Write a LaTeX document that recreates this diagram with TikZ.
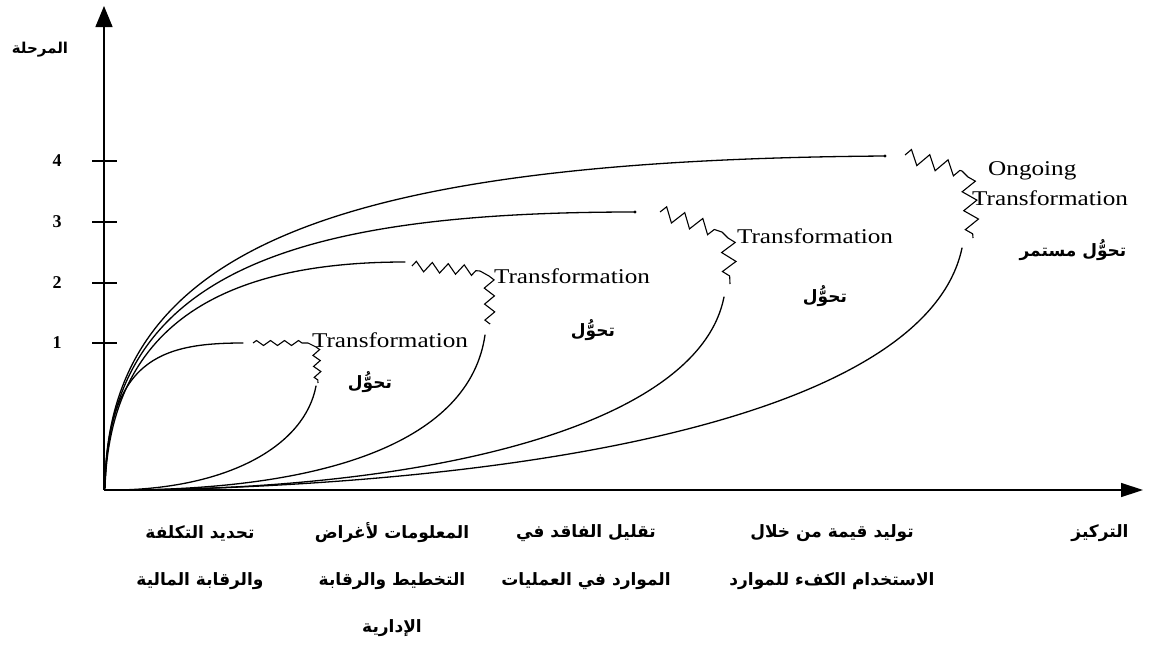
\documentclass[tikz,border=0pt]{standalone}
\usepackage{fontspec}
\setmainfont{Liberation Serif}
\newfontfamily\arb[Script=Arabic]{DejaVu Sans}
\newfontfamily\trf[FakeStretch=1.2]{Liberation Serif}
\TeXXeTstate=1
\usetikzlibrary{decorations.pathmorphing,arrows.meta}
\newcommand\artxt[1]{\beginR #1\endR}
\tikzset{
  axisline/.style={line width=1.4pt},
  curveline/.style={line width=1.3pt, line join=round, line cap=round},
  zzs/.style={line width=1.1pt, decorate, decoration={zigzag, segment length=14pt, amplitude=2.5pt}},
  zzv/.style={line width=1.1pt, decorate, decoration={zigzag, segment length=11pt, amplitude=3.5pt}},
  zzm/.style={line width=1.1pt, decorate, decoration={zigzag, segment length=16pt, amplitude=5pt}},
  zzl/.style={line width=1.1pt, decorate, decoration={zigzag, segment length=19pt, amplitude=7pt}},
  ar/.style={font=\arb\bfseries\fontsize{17}{19}\selectfont, inner sep=0pt},
  arsmall/.style={font=\arb\bfseries\fontsize{15}{17}\selectfont, inner sep=0pt},
  lab/.style={font=\trf\fontsize{21}{23}\selectfont, inner sep=0pt},
  tick/.style={font=\bfseries\fontsize{18}{20}\selectfont, inner sep=0pt},
}
\begin{document}
\begin{tikzpicture}[x=1pt,y=-1pt]
\fill[white] (0,0) rectangle (1159,645);
\useasboundingbox (0,0) rectangle (1159,645);

% axes
\coordinate (O) at (104,490);
\coordinate (Ytip) at (104,6);
\coordinate (Xtip) at (1143,490);
\draw[axisline,-{Triangle[length=21pt,width=17pt]}] (O) -- (Ytip);
\draw[axisline,-{Triangle[length=22pt,width=14pt]}] (O) -- (Xtip);

% ticks
\draw[line width=1.1pt] (92,161) -- (117,161);
\draw[line width=1.1pt] (92,222) -- (117,222);
\draw[line width=1.1pt] (92,283) -- (117,283);
\draw[line width=1.1pt] (92,343) -- (117,343);
\node[tick] (n4) at (57,161) {4};
\node[tick] (n3) at (57,222) {3};
\node[tick] (n2) at (57,283) {2};
\node[tick] (n1) at (57,343) {1};
\node[arsmall] (ylab) at (40,50) {\artxt{المرحلة}};

% top curves
\coordinate (S) at (105,488);
\coordinate (E1) at (243,343);
\coordinate (E2) at (405,262);
\coordinate (E3) at (635,212);
\coordinate (E4) at (885,156);
\draw[curveline] (S) .. controls (107,360) and (160,343) .. (E1);
\draw[curveline] (S) .. controls (110,320) and (230,262) .. (E2);
\draw[curveline] (S) .. controls (108,270) and (300,212) .. (E3);
\draw[curveline] (S) .. controls (106,250) and (330,160) .. (E4);
\fill (E3) circle (1.6);
\fill (E4) circle (1.6);

% return curves
\coordinate (R1) at (316,386);
\coordinate (R2) at (485,335);
\coordinate (R3) at (724,297);
\coordinate (R4) at (962,248);
\coordinate (F1) at (118,490);
\coordinate (F4) at (150,490);
\draw[curveline] (R1) .. controls (305,445) and (230,488) .. (F1);
\draw[curveline] (R2) .. controls (470,440) and (330,490) .. (F1);
\draw[curveline] (R3) .. controls (700,420) and (450,490) .. (F1);
\draw[curveline] (R4) .. controls (930,400) and (600,480) .. (F4);

% zigzags (transformations)
\draw[zzs] (253,343) -- (308,343);
\draw[line width=1.1pt] (308,343) -- (316,347);
\draw[zzv] (316,347) -- (318,383);

\draw[zzm] (412,266) -- (480,271);
\draw[line width=1.1pt] (480,271) -- (489,276);
\draw[zzm] (489,276) -- (490,324);

\draw[zzl] (660,212) -- (722,232);
\draw[line width=1.1pt] (722,232) -- (728,238);
\draw[zzl] (728,238) -- (730,284);

\draw[zzl] (905,155) -- (962,171);
\draw[line width=1.1pt] (962,171) -- (968,177);
\draw[zzl] (968,177) -- (973,238);

% English labels
\node[lab] (t1) at (390,340) {Transformation};
\node[lab] (t2) at (572,276) {Transformation};
\node[lab] (t3) at (815,236) {Transformation};
\node[lab,anchor=west] (t4a) at (988,171) {Ongoing};
\node[lab,anchor=west] (t4b) at (972,198) {Transformation};

% Arabic labels in zones
\node[ar] (a1) at (370,382) {\artxt{تحوُّل}};
\node[ar] (a2) at (593,330) {\artxt{تحوُّل}};
\node[ar] (a3) at (825,296) {\artxt{تحوُّل}};
\node[ar] (a4) at (1073,250) {\artxt{تحوُّل مستمر}};

% bottom labels
\node[ar] (b1a) at (200,533) {\artxt{تحديد التكلفة}};
\node[ar] (b1b) at (200,581) {\artxt{والرقابة المالية}};
\node[ar] (b2a) at (392,533) {\artxt{المعلومات لأغراض}};
\node[ar] (b2b) at (392,581) {\artxt{التخطيط والرقابة}};
\node[ar] (b2c) at (392,628) {\artxt{الإدارية}};
\node[ar] (b3a) at (586,533) {\artxt{تقليل الفاقد في}};
\node[ar] (b3b) at (586,581) {\artxt{الموارد في العمليات}};
\node[ar] (b4a) at (832,533) {\artxt{توليد قيمة من خلال}};
\node[ar] (b4b) at (832,581) {\artxt{الاستخدام الكفء للموارد}};
\node[ar] (b5) at (1100,533) {\artxt{التركيز}};
\end{tikzpicture}
\end{document}
